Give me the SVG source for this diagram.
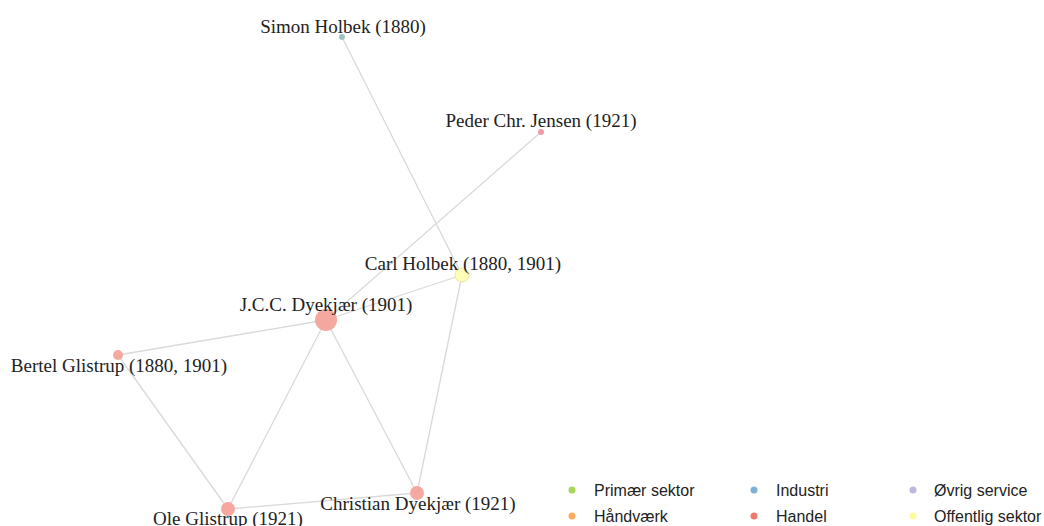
<svg xmlns="http://www.w3.org/2000/svg" width="1044" height="526" viewBox="0 0 1044 526">
<style>
.e{stroke:#d9d9d9;stroke-width:1.3;fill:none}
.lbl{font-family:"Liberation Serif","Times New Roman",serif;font-size:19px;fill:#222;text-anchor:middle}
.leg{font-family:"Liberation Sans",Arial,sans-serif;font-size:16px;fill:#222}
.h{fill:#f4a39b;opacity:0.95}
</style>
<rect width="1044" height="526" fill="#fff"/>
<g id="edges">
<line class="e" x1="342" y1="37" x2="462" y2="275"/>
<line class="e" x1="541" y1="132" x2="326" y2="320"/>
<line class="e" x1="462" y1="275" x2="326" y2="320"/>
<line class="e" x1="462" y1="275" x2="417" y2="493"/>
<line class="e" x1="326" y1="320" x2="118" y2="355"/>
<line class="e" x1="326" y1="320" x2="228" y2="509"/>
<line class="e" x1="326" y1="320" x2="417" y2="493"/>
<line class="e" x1="118" y1="355" x2="228" y2="509"/>
<line class="e" x1="228" y1="509" x2="417" y2="493"/>
</g>
<g id="n-simon"><circle cx="342" cy="37" r="3" fill="#9fc3c0"/><text class="lbl" x="343" y="33">Simon Holbek (1880)</text></g>
<g id="n-peder"><circle cx="541" cy="132" r="3" fill="#f09aa6"/><text class="lbl" x="541" y="127">Peder Chr. Jensen (1921)</text></g>
<g id="n-carl"><circle cx="462" cy="275" r="7" fill="#ffffb8" stroke="#e8e8a0" stroke-width="1"/><text class="lbl" x="463" y="270">Carl Holbek (1880, 1901)</text></g>
<g id="n-jcc"><circle cx="326" cy="320" r="11" class="h"/><text class="lbl" x="326" y="311">J.C.C. Dyekjær (1901)</text></g>
<g id="n-bertel"><circle cx="118" cy="355" r="5" class="h"/><text class="lbl" x="119" y="372">Bertel Glistrup (1880, 1901)</text></g>
<g id="n-ole"><circle cx="228" cy="509" r="7" class="h"/><text class="lbl" x="228" y="525">Ole Glistrup (1921)</text></g>
<g id="n-christian"><circle cx="417" cy="493" r="7" class="h"/><text class="lbl" x="418" y="510">Christian Dyekjær (1921)</text></g>
<g id="legend">
<circle cx="572" cy="490" r="3.5" fill="#a6d65a"/><text class="leg" x="594" y="496">Primær sektor</text>
<circle cx="572" cy="516" r="3.5" fill="#f9ae60"/><text class="leg" x="594" y="522">Håndværk</text>
<circle cx="754" cy="490" r="3.5" fill="#7fb0d6"/><text class="leg" x="776" y="496">Industri</text>
<circle cx="754" cy="516" r="3.5" fill="#f0786a"/><text class="leg" x="776" y="522">Handel</text>
<circle cx="913" cy="490" r="3.5" fill="#bcb8dc"/><text class="leg" x="934" y="496">Øvrig service</text>
<circle cx="913" cy="516" r="3.5" fill="#fbfba0"/><text class="leg" x="934" y="522">Offentlig sektor</text>
</g>
</svg>
